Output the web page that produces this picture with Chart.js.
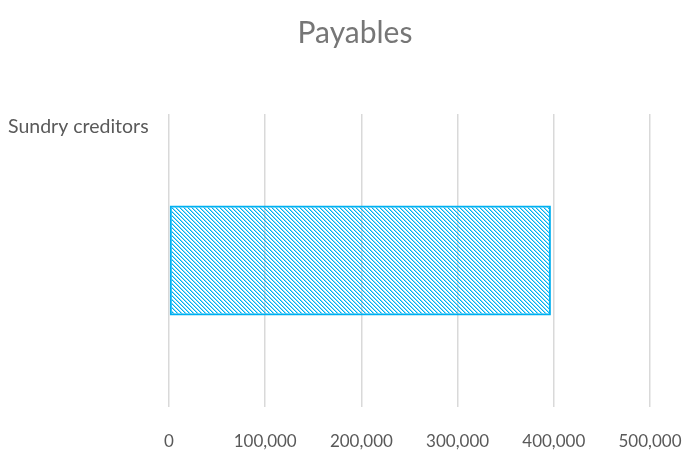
<!DOCTYPE html>
<html>
<head>
<meta charset="utf-8">
<script src="https://cdn.jsdelivr.net/npm/chart.js@4.4.1/dist/chart.umd.min.js"></script>
<style>
  html, body { margin: 0; padding: 0; background: #fff; overflow: hidden; }
  #wrap { width: 684px; height: 455px; }
</style>
</head>
<body>
<div id="wrap"><canvas id="myChart"></canvas></div>
<script>
    "use strict";

    // chart data
    const chartTitle = 'Payables';
    const categories = ['Sundry creditors'];
    const payables = [397000];
    const xTicks = [0, 100000, 200000, 300000, 400000, 500000];

    const fontFamily = 'Lato';

    // diagonal hatch like the Excel pattern fill
    function makeHatch() {
        let c = document.createElement('canvas');
        c.width = 4;
        c.height = 4;
        let g = c.getContext('2d');
        for (let i = 0; i < 4; i++) {
            g.fillStyle = '#00B0F0';
            g.fillRect(i, i, 1, 1);
            g.fillStyle = 'rgba(0,176,240,0.45)';
            g.fillRect((i + 1) % 4, i, 1, 1);
        }
        return g.createPattern(c, 'repeat');
    }

    // category label sits at the top left of the plot, like the original
    const categoryLabel = {
        id: 'categoryLabel',
        afterDraw(chart) {
            let ctx = chart.ctx;
            let area = chart.chartArea;
            ctx.save();
            ctx.font = '19.5px ' + fontFamily;
            ctx.fillStyle = '#595959';
            ctx.textBaseline = 'middle';
            ctx.textAlign = 'left';
            ctx.fillText(categories[0], 8, area.top + 13);
            ctx.restore();
        }
    };

    let ctx = document.getElementById('myChart').getContext('2d');
    let chart = new Chart(ctx, {
        type: 'bar',
        data: {
            labels: categories,
            datasets: [
                {
                    label: 'Payables',
                    data: payables,
                    backgroundColor: makeHatch(),
                    borderColor: '#00B0F0',
                    borderWidth: 2,
                    borderSkipped: false,
                    categoryPercentage: 1,
                    barPercentage: 0.375
                }
            ]
        },
        options: {
            indexAxis: 'y',
            responsive: true,
            maintainAspectRatio: false,
            animation: false,
            layout: {
                padding: { left: 26, right: 0, top: 9, bottom: 0 }
            },
            plugins: {
                legend: { display: false },
                tooltip: { enabled: false },
                title: {
                    display: true,
                    text: chartTitle,
                    color: '#767676',
                    font: { family: fontFamily, size: 30, weight: 'normal' },
                    padding: { top: 6, bottom: 63 }
                }
            },
            scales: {
                x: {
                    min: 0,
                    max: 500000,
                    afterBuildTicks: function (axis) {
                        axis.ticks = xTicks.map(v => ({ value: v }));
                    },
                    afterFit: function (axis) {
                        axis.height = 48;
                        axis.paddingLeft = 0;
                        axis.paddingRight = 34;
                    },
                    grid: { color: '#d9d9d9', lineWidth: 1.5, drawTicks: false },
                    border: { display: false },
                    ticks: {
                        color: '#595959',
                        padding: 24,
                        font: { family: fontFamily, size: 17 },
                        callback: v => v.toLocaleString('en-US')
                    }
                },
                y: {
                    display: true,
                    afterFit: function (axis) {
                        axis.width = 143;
                    },
                    grid: { display: false },
                    border: { display: false },
                    ticks: { display: false }
                }
            }
        },
        plugins: [categoryLabel]
    });
</script>
</body>
</html>
